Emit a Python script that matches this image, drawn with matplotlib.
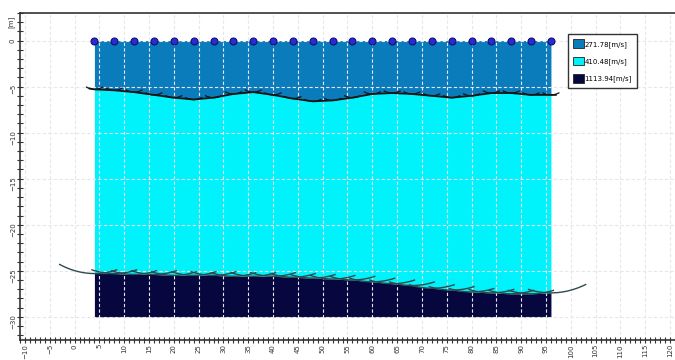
import numpy as np
import matplotlib
matplotlib.use("Agg")
import matplotlib.pyplot as plt
from matplotlib.ticker import MultipleLocator

# geophone positions [m]
geophones = [4, 8, 12, 16, 20, 24, 28, 32, 36, 40, 44, 48,
             52, 56, 60, 64, 68, 72, 76, 80, 84, 88, 92, 96]

# depth of interface 1 (layer 1 / layer 2) below each geophone [m]
depth1 = [-5.3, -5.4, -5.6, -5.9, -6.2, -6.4, -6.2, -5.8, -5.6, -5.9, -6.3, -6.6,
          -6.5, -6.2, -5.8, -5.7, -5.8, -6.0, -6.2, -6.0, -5.7, -5.7, -5.9, -5.9]

# depth of interface 2 (layer 2 / layer 3) below each geophone [m]
depth2 = [-25.3, -25.3, -25.4, -25.4, -25.5, -25.5, -25.5, -25.6, -25.6, -25.6, -25.7, -25.8,
          -25.9, -26.0, -26.2, -26.4, -26.6, -26.9, -27.1, -27.3, -27.4, -27.5, -27.5, -27.4]

bottom = -30
velocities = ["271.78[m/s]", "410.48[m/s]", "1113.94[m/s]"]
layer_colors = ["#0a7cbc", "#00f2fb", "#07073f"]

x = np.array(geophones, dtype=float)
d1 = np.array(depth1)
d2 = np.array(depth2)

fig = plt.figure(figsize=(6.75, 3.6), dpi=100)
ax = fig.add_axes([0.0296, 0.056, 0.9704, 0.908])

# layers
ax.fill_between(x, 0, d1, color=layer_colors[0], lw=0, zorder=1, label=velocities[0])
ax.fill_between(x, d1, d2, color=layer_colors[1], lw=0, zorder=1, label=velocities[1])
ax.fill_between(x, d2, bottom, color=layer_colors[2], lw=0, zorder=1, label=velocities[2])

# grid on top of layers
ax.grid(True, color="#e6e6ee", ls=(0, (3, 2)), lw=0.8, zorder=2)
ax.set_axisbelow(False)

# interface 1: short wavefront pieces + line
for xg, r in zip(geophones, depth1):
    r = -r
    xs = np.linspace(xg - 1.6, xg + 1.6, 12)
    ys = -np.sqrt(r ** 2 - (xs - xg) ** 2)
    ax.plot(xs, ys, color="#151515", lw=0.9, zorder=3)
ax.plot([3] + list(x) + [97], [depth1[0] + 0.1] + depth1 + [depth1[-1]],
        color="#151515", lw=1.3, zorder=3)

# interface 2: wavefront arcs around each geophone
for i, (xg, r) in enumerate(zip(geophones, depth2)):
    r = -r
    lo = 7 if i == 0 else 4.5
    hi = 7 if i == len(geophones) - 1 else 4.5
    xs = np.linspace(xg - lo, xg + hi, 30)
    ys = -np.sqrt(r ** 2 - (xs - xg) ** 2)
    ax.plot(xs, ys, color="#2f4a4c", lw=1.0, zorder=3)

# geophones
ax.plot(x, np.zeros_like(x), "o", ms=5, mfc="#2b2bd6", mec="#10106a", mew=0.8, zorder=4)

ax.set_xlim(-11, 121)
ax.set_ylim(-32.5, 3.0)
ax.xaxis.set_major_locator(MultipleLocator(5))
ax.xaxis.set_minor_locator(MultipleLocator(1))
ax.yaxis.set_major_locator(MultipleLocator(5))
ax.yaxis.set_minor_locator(MultipleLocator(1))
ax.tick_params(which="both", direction="inout", colors="#333333", labelsize=5, pad=0.5)
ax.tick_params(which="major", length=5, width=0.8)
ax.tick_params(which="minor", length=4, width=0.8)
ax.tick_params(axis="both", labelrotation=90)

ax.spines["right"].set_visible(False)
for s in ["top", "left", "bottom"]:
    ax.spines[s].set_color("#333333")
    ax.spines[s].set_linewidth(1.2)

fig.text(0.012, 0.955, "[m]", rotation=90, fontsize=5, color="#333333", va="top")

leg = ax.legend(loc="upper left", bbox_to_anchor=(0.832, 0.945), fontsize=5,
                frameon=True, fancybox=False, edgecolor="#333333", framealpha=1,
                handlelength=1.5, handleheight=1.6, handletextpad=0.1,
                borderpad=0.7, labelspacing=1.2)
for h in leg.legend_handles:
    h.set_edgecolor("#222222")
    h.set_linewidth(0.6)

fig.savefig("out.png", dpi=100)
